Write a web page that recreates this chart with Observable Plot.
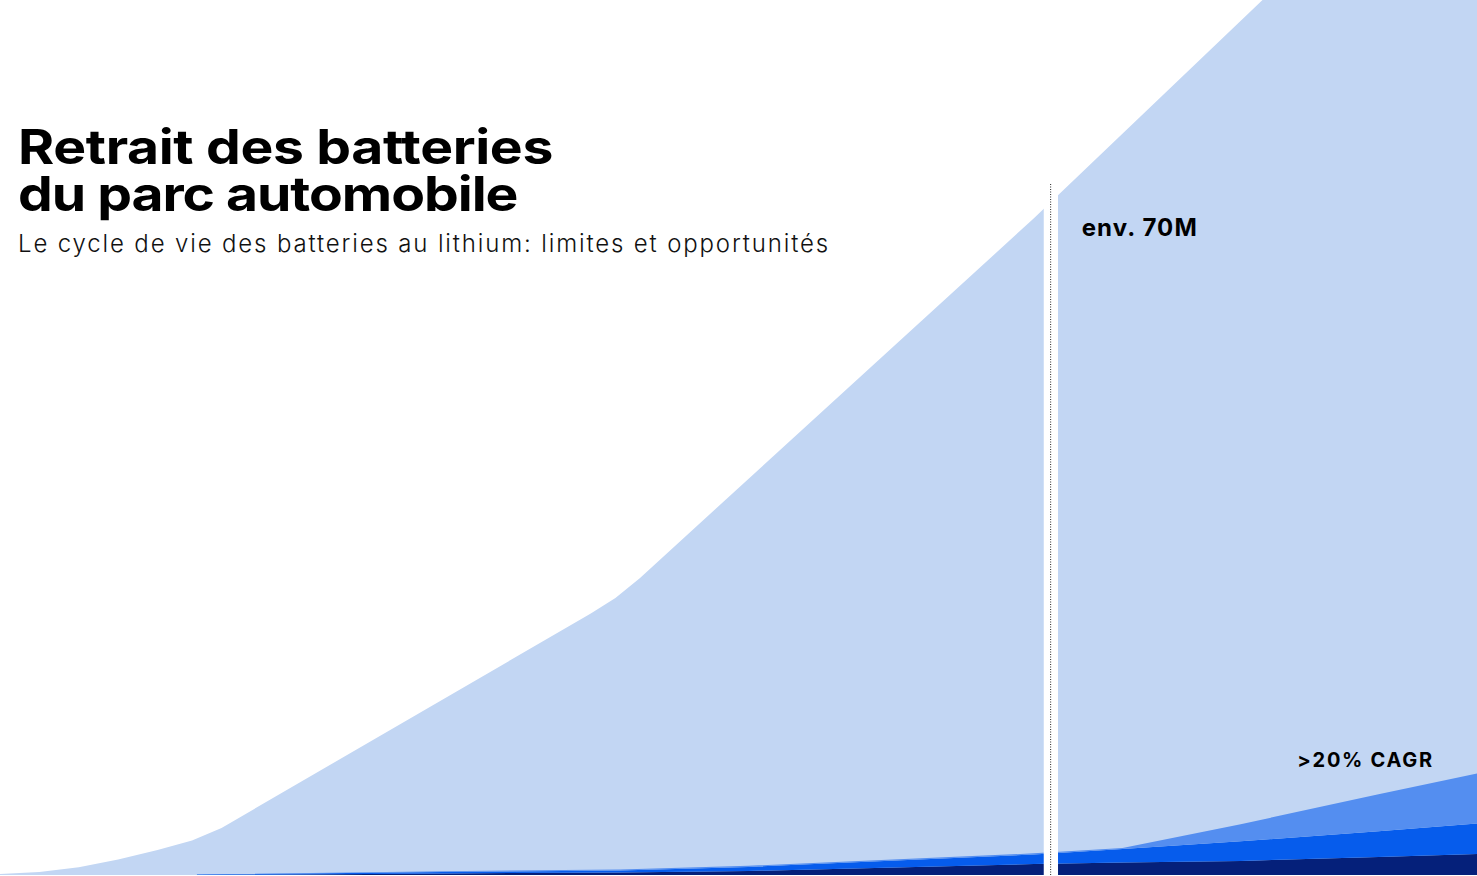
<!DOCTYPE html>
<html>
<head>
<meta charset="utf-8">
<script src="https://cdn.jsdelivr.net/npm/d3@7"></script>
<script src="https://cdn.jsdelivr.net/npm/@observablehq/plot@0.6"></script>
<style>
  html, body { margin: 0; padding: 0; background: #fff; overflow: hidden; }
  #wrap { position: relative; width: 1477px; height: 876px; }
  #chart svg { display: block; }
  .title { position: absolute; left: 18px; font-family: Inter, sans-serif; font-weight: 700;
           font-size: 48px; line-height: 46px; letter-spacing: -0.3px; color: #000; margin: 0;
           transform: scaleX(1.15); transform-origin: left center; white-space: nowrap; }
  #t1 { top: 124px; }
  #t2 { top: 171px; letter-spacing: -0.9px; }
  #subtitle { position: absolute; left: 18px; top: 229px; font-family: Inter, sans-serif; font-weight: 300;
              font-size: 24px; line-height: 30px; letter-spacing: 1.85px; color: #111; margin: 0; white-space: nowrap; }
</style>
</head>
<body>
<div id="wrap">
  <div id="chart"></div>
  <div class="title" id="t1">Retrait des batteries</div>
  <div class="title" id="t2">du parc automobile</div>
  <p id="subtitle">Le cycle de vie des batteries au lithium: limites et opportunités</p>
</div>
<script>
// Total battery fleet (millions), light blue background area
const totalYears = [2010, 2010.8, 2011.6, 2012.4, 2013.2, 2013.9, 2014.5, 2022, 2022.5, 2023, 2031, 2040];
const totalValues = [0.1, 0.3, 0.8, 1.6, 2.6, 3.6, 4.9, 27.2, 28.8, 30.9, 68.3, 112.3];

// Retired battery layers (millions), stacked bottom to top
const layerYears = [2014, 2019, 2022.6, 2025.2, 2031, 2032.8, 2035.2, 2038, 2040];
const navyValues = [0, 0.16, 0.26, 0.42, 1.14, 1.3, 1.46, 1.87, 2.18];
const brightValues = [0.05, 0.16, 0.21, 0.42, 0.99, 1.4, 2.05, 2.67, 3.17];
const mediumValues = [0, 0.08, 0.1, 0.12, 0.12, 0.12, 1.77, 3.85, 5.2];

const seriesNames = ["navy", "bright", "medium"];
const seriesColors = ["#05207a", "#065cec", "#548ef0"];
const lightColor = "#c2d6f3";

// Current-year split marker
const splitYear = [2031.33];
const gapYears = [[2031.2, 2031.49]];
const markerTop = 71.9;

// Annotations
const labels = ["env. 70M", ">20% CAGR"];
const labelYears = [2031.96, 2036.34];
const labelValues = [67.3, 11.9];

const totalData = totalYears.map((x, i) => ({x, y: totalValues[i]}));
const layerData = [];
[navyValues, brightValues, mediumValues].forEach((vals, s) => {
  layerYears.forEach((x, i) => layerData.push({x, y: vals[i], series: seriesNames[s]}));
});

const chart = Plot.plot({
  width: 1477,
  height: 876,
  marginTop: 0,
  marginRight: 0,
  marginBottom: 1,
  marginLeft: 0,
  x: {domain: [2010, 2040], axis: null},
  y: {domain: [0, 91], axis: null},
  color: {domain: seriesNames, range: seriesColors},
  marks: [
    Plot.areaY(totalData, {x: "x", y: "y", fill: lightColor, clip: true}),
    Plot.areaY(layerData, {x: "x", y: "y", fill: "series", z: "series", order: seriesNames, clip: true}),
    Plot.rect(gapYears, {x1: d => d[0], x2: d => d[1], y1: 0, y2: 200, fill: "#fff", clip: true}),
    Plot.ruleX(splitYear, {x: d => d, y1: 0, y2: markerTop, stroke: "#222", strokeWidth: 1, strokeDasharray: "1,1.5"}),
    Plot.text([labels[0]], {x: labelYears[0], y: labelValues[0], text: d => d, textAnchor: "start",
      fontFamily: "Inter, sans-serif", fontWeight: 700, fontSize: 24, fill: "#000"}),
    Plot.text([labels[1]], {x: labelYears[1], y: labelValues[1], text: d => d, textAnchor: "start",
      fontFamily: "Inter, sans-serif", fontWeight: 700, fontSize: 20, fill: "#000"})
  ]
});
// Letter spacing for the annotation labels (not a Plot option)
d3.select(chart).selectAll("text").each(function() {
  const t = this.textContent;
  if (t === labels[0]) this.style.letterSpacing = "1.1px";
  if (t === labels[1]) this.style.letterSpacing = "1.7px";
});
document.getElementById("chart").appendChild(chart);
</script>
</body>
</html>
